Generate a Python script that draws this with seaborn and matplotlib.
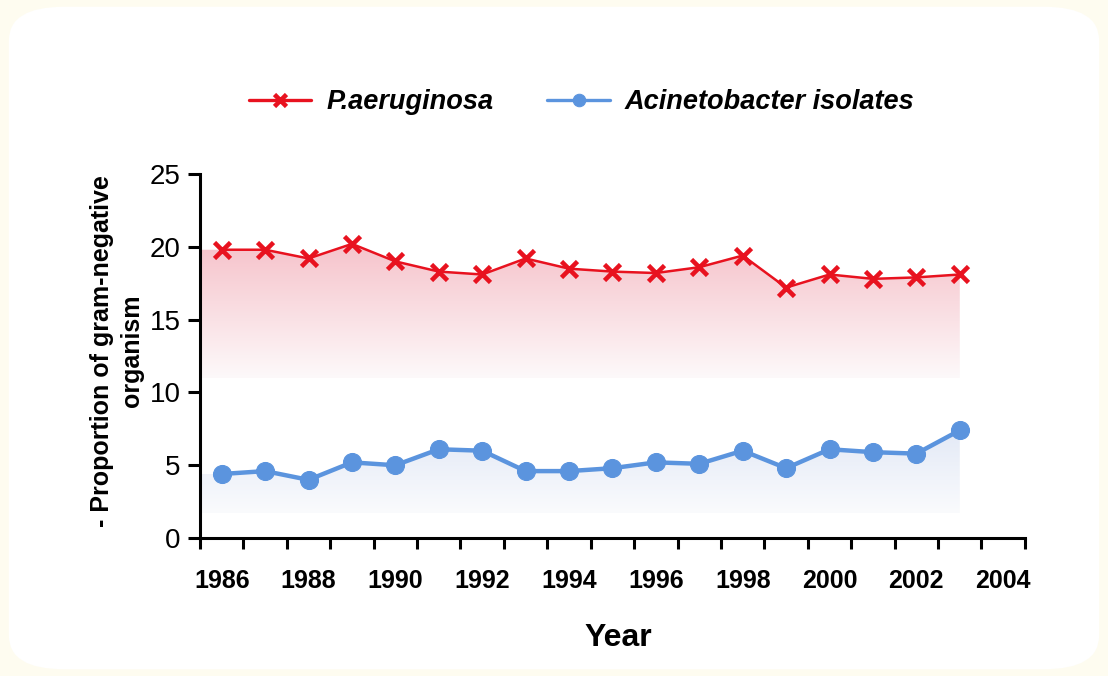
import numpy as np
import pandas as pd
import seaborn as sns
import matplotlib.pyplot as plt
from matplotlib.patches import FancyBboxPatch
from matplotlib.colors import LinearSegmentedColormap

# Dados
anos = list(range(1986, 2004))
p_aeruginosa = [19.8, 19.8, 19.2, 20.2, 19.0, 18.3, 18.1, 19.2, 18.5, 18.3,
                18.2, 18.6, 19.4, 17.2, 18.1, 17.8, 17.9, 18.1]
acinetobacter = [4.4, 4.6, 4.0, 5.2, 5.0, 6.1, 6.0, 4.6, 4.6, 4.8,
                 5.2, 5.1, 6.0, 4.8, 6.1, 5.9, 5.8, 7.4]
rotulos_x = list(range(1986, 2005, 2))
rotulos_y = [0, 5, 10, 15, 20, 25]

df = pd.DataFrame({"Year": anos, "P.aeruginosa": p_aeruginosa,
                   "Acinetobacter isolates": acinetobacter})

sns.set_style("ticks")
plt.rcParams['font.family'] = ['Liberation Sans', 'DejaVu Sans']
plt.rcParams.update({'text.color': 'black', 'axes.labelcolor': 'black',
                     'xtick.color': 'black', 'ytick.color': 'black'})

fig = plt.figure(figsize=(11.08, 6.76), dpi=100, facecolor='#fefcf0')
fig.patches.append(FancyBboxPatch((0.008, 0.01), 0.984, 0.98,
                                  boxstyle="round,pad=0,rounding_size=0.05",
                                  transform=fig.transFigure, facecolor='white',
                                  edgecolor='none', zorder=-5))
ax = fig.add_axes([0.1805, 0.204, 0.7445, 0.5386])
ax.set_facecolor('none')

vermelho = '#e8121f'
azul = '#5b94de'


def gradiente(x, y, base, cor_topo, cor_base):
    xs = [1985.5] + list(x)
    ys = [y[0]] + list(y)
    poly = ax.fill_between(xs, ys, base, color='none', lw=0)
    cmap = LinearSegmentedColormap.from_list('g', [cor_base, cor_topo])
    top = max(ys)
    img = ax.imshow(np.linspace(0, 1, 256).reshape(-1, 1), cmap=cmap, aspect='auto',
                    origin='lower', extent=[1985.5, x[-1], base, top], zorder=1)
    path = poly.get_paths()[0]
    img.set_clip_path(path, transform=ax.transData)


gradiente(anos, p_aeruginosa, 11, '#f6c3cb', '#fdf9fa')
gradiente(anos, acinetobacter, 1.7, '#e3e9f6', '#fafbfd')

sns.lineplot(data=df, x="Year", y="P.aeruginosa", ax=ax, color=vermelho, lw=1.8,
             marker='x', markersize=12, markeredgewidth=3.3, mec=vermelho,
             label="P.aeruginosa", zorder=3)
sns.lineplot(data=df, x="Year", y="Acinetobacter isolates", ax=ax, color=azul, lw=3.2,
             marker='o', markersize=13, mec=azul, label="Acinetobacter isolates", zorder=3)

ax.set_xlim(1985.5, 2004.5)
ax.set_ylim(0, 25)
ax.set_xticks(rotulos_x)
ax.set_xticks(np.arange(1985.5, 2005, 1), minor=True)
ax.set_yticks(rotulos_y)
ax.tick_params(axis='x', which='major', length=0, pad=22, labelsize=18)
ax.tick_params(axis='x', which='minor', length=8, width=2.2, direction='out', color='black')
ax.tick_params(axis='y', length=8.5, width=2.2, pad=5.5, labelsize=20, color='black')
for lab in ax.get_xticklabels():
    lab.set_fontweight('bold')

sns.despine(ax=ax)
for s in ['left', 'bottom']:
    ax.spines[s].set_linewidth(2.2)
    ax.spines[s].set_color('black')

ax.set_xlabel("Year", fontsize=23, fontweight='bold')
ax.xaxis.set_label_coords(0.507, -0.232)
ax.set_ylabel("- Proportion of gram-negative\norganism", fontsize=18,
              fontweight='bold', multialignment='center', linespacing=1.3)
ax.yaxis.set_label_coords(-0.068, 0.515)

leg = ax.legend(loc='center', bbox_to_anchor=(0.525, 0.849), bbox_transform=fig.transFigure,
                ncol=2, frameon=False, handlelength=2.3, handletextpad=0.55,
                columnspacing=2.0, prop={'size': 19.5, 'weight': 'bold', 'style': 'italic'})
for h in leg.legend_handles:
    h.set_markersize(9)
    h.set_linewidth(2.4)

fig.savefig("out.png", dpi=100, facecolor=fig.get_facecolor())
